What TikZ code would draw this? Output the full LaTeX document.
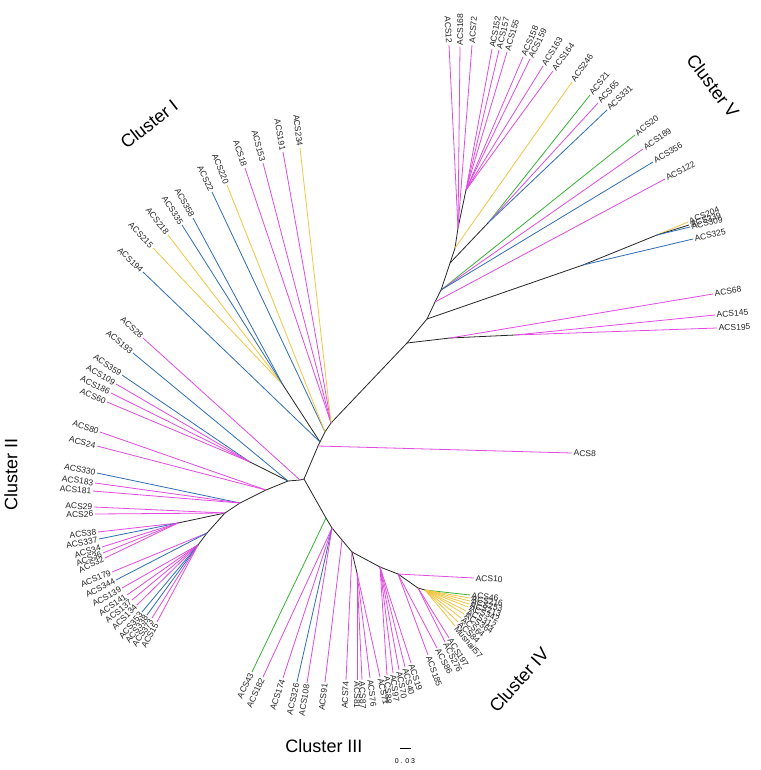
\documentclass[tikz,border=0pt]{standalone}
\usepackage{fontspec}
\setmainfont{Liberation Sans}
\usetikzlibrary{calc}
\definecolor{acsPink}  {HTML}{E04BE0}
\definecolor{acsBlue}  {HTML}{2F6DB5}
\definecolor{acsYellow}{HTML}{F2C542}
\definecolor{acsGreen} {HTML}{36B336}
\definecolor{acsBranch}{HTML}{262626}

\tikzset{
  branch/.style={draw=acsBranch, line width=0.8pt},
  leaflab/.style={font=\fontsize{8.5}{9}\selectfont, inner sep=1.5pt, text=black!85},
  clusterlab/.style={font=\fontsize{18}{20}\selectfont, inner sep=0pt},
}

% one terminal branch with its label read along the branch
\newcommand\acsleaf[4]{%
  \draw[#1, line width=0.8pt] (#2) -- (#3);
  \pgfmathanglebetweenpoints{\pgfpointanchor{#2}{center}}{\pgfpointanchor{#3}{center}}%
  \let\leafang\pgfmathresult
  \pgfmathparse{cos(\leafang)}%
  \ifdim\pgfmathresult pt<0pt
    \pgfmathsetmacro\leafrot{\leafang+180}%
    \node[leaflab, rotate=\leafrot, anchor=east] (lab-#3) at (#3) {#4};
  \else
    \node[leaflab, rotate=\leafang, anchor=west] (lab-#3) at (#3) {#4};
  \fi}

\begin{document}
\begin{tikzpicture}[x=1pt, y=-1pt]
  \fill[white] (0,0) rectangle (760,770);
  \useasboundingbox (0,0) rectangle (760,770);

  % internal nodes
  \coordinate (R0) at (304,479);
  \coordinate (n8) at (318,446);
  \coordinate (c1a) at (320,442);
  \coordinate (c1b) at (325,432);
  \coordinate (c1c) at (331,423);
  \coordinate (c1s) at (283,385);
  \coordinate (V0) at (407,343);
  \coordinate (V1) at (427,319);
  \coordinate (V2) at (435,302);
  \coordinate (V3) at (441,290);
  \coordinate (V4) at (450,263);
  \coordinate (V5) at (488,223);
  \coordinate (V6) at (455,248);
  \coordinate (V7) at (458,228);
  \coordinate (V8) at (466,190);
  \coordinate (V325) at (583,265);
  \coordinate (V204) at (657,235);
  \coordinate (V68) at (450,338);
  \coordinate (V145) at (515,335);
  \coordinate (L0) at (300,480);
  \coordinate (L1) at (288,481);
  \coordinate (L2) at (250,462);
  \coordinate (L3) at (266,490);
  \coordinate (L4) at (240,503);
  \coordinate (L5) at (225,513);
  \coordinate (L5a) at (178,523);
  \coordinate (L6) at (207,533);
  \coordinate (L7) at (198,545);
  \coordinate (D1) at (326,518);
  \coordinate (D2) at (332,528);
  \coordinate (D3) at (342,540);
  \coordinate (D4) at (352,552);
  \coordinate (D4a) at (357,573);
  \coordinate (D5) at (380,567);
  \coordinate (D6) at (398,574);
  \coordinate (F1) at (418,588);
  \coordinate (F2) at (425,590);

  \foreach \a/\b in {R0/n8, n8/c1a, c1a/c1b, c1b/c1c, c1c/V0, c1a/c1s,
      V0/V1, V1/V2, V2/V3, V3/V4, V4/V6, V6/V7, V7/V8, V4/V5,
      V1/V325, V325/V204, V0/V68, V68/V145,
      R0/L0, L0/L1, L1/L2, L1/L3, L3/L4, L4/L5, L5/L5a, L5/L6, L6/L7,
      R0/D1, D1/D2, D2/D3, D3/D4, D4/D4a, D4/D5, D5/D6, D6/F1, F1/F2}
    \draw[branch] (\a) -- (\b);

  % Cluster I and ACS8
  \foreach \b/\c/\x/\y/\t in {c1a/acsBlue/143/272/ACS194,
      c1s/acsYellow/153/248/ACS215, c1s/acsYellow/168/235/ACS218,
      c1s/acsBlue/182/225/ACS335, c1s/acsBlue/193/218/ACS358,
      c1b/acsBlue/212/192/ACS22, c1b/acsYellow/227/185/ACS220,
      c1c/acsPink/245/168/ACS18, c1c/acsPink/263/163/ACS153,
      c1c/acsPink/283/152/ACS191, c1c/acsYellow/300/148/ACS234,
      n8/acsPink/572/453/ACS8} {
    \coordinate (t-\t) at (\x,\y);
    \acsleaf{\c}{\b}{t-\t}{\t}
  }

  % Cluster V
  \foreach \b/\c/\x/\y/\t in {V7/acsPink/449/45/ACS12,
      V7/acsPink/460/47/ACS168, V7/acsPink/472/45/ACS72,
      V8/acsPink/492/49/ACS152, V8/acsPink/499/50/ACS157,
      V8/acsPink/507/52/ACS155, V8/acsPink/523/57/ACS158,
      V8/acsPink/530/59/ACS159, V8/acsPink/543/66/ACS163,
      V8/acsPink/553/71/ACS164, V6/acsYellow/572/82/ACS246,
      V5/acsGreen/590/95/ACS21, V5/acsPink/598/103/ACS65,
      V5/acsBlue/607/110/ACS331, V3/acsGreen/635/135/ACS20,
      V3/acsPink/643/149/ACS189, V3/acsBlue/653/162/ACS356,
      V2/acsPink/665/179/ACS122, V204/acsYellow/688/222/ACS204,
      V204/acsBranch/689/225/ACS339, V204/acsBlue/690/227/ACS309,
      V325/acsBlue/693/239/ACS325, V68/acsPink/713/294/ACS68,
      V145/acsPink/715/315/ACS145, V145/acsPink/717/328/ACS195} {
    \coordinate (t-\t) at (\x,\y);
    \acsleaf{\c}{\b}{t-\t}{\t}
  }

  % Cluster II
  \foreach \b/\c/\x/\y/\t in {L0/acsPink/143/338/ACS28,
      L1/acsBlue/133/353/ACS193, L2/acsBlue/122/375/ACS359,
      L2/acsPink/116/384/ACS109, L2/acsPink/111/393/ACS186,
      L2/acsPink/107/402/ACS60, L3/acsPink/100/432/ACS80,
      L3/acsPink/97/446/ACS24, L4/acsBlue/97/473/ACS330,
      L4/acsPink/95/483/ACS183, L4/acsPink/93/491/ACS181,
      L5/acsPink/94/507/ACS29, L5/acsPink/95/514/ACS26,
      L5a/acsPink/98/532/ACS38, L5a/acsBlue/99/539/ACS337,
      L5a/acsPink/102/547/ACS34, L5a/acsPink/103/553/ACS36,
      L5a/acsPink/105/558/ACS32, L6/acsPink/112/572/ACS179,
      L6/acsBlue/116/580/ACS344, L7/acsPink/122/588/ACS139,
      L7/acsPink/127/595/ACS141, L7/acsPink/132/600/ACS137,
      L7/acsPink/137/605/ACS134, L7/acsBlue/142/612/ACS353,
      L7/acsBlue/147/615/ACS338, L7/acsPink/152/618/ACS373,
      L7/acsPink/157/622/ACS15} {
    \coordinate (t-\t) at (\x,\y);
    \acsleaf{\c}{\b}{t-\t}{\t}
  }

  % Clusters III and IV
  \foreach \b/\c/\x/\y/\t in {D1/acsGreen/252/672/ACS43,
      D2/acsPink/263/677/ACS182, D2/acsPink/283/678/ACS174,
      D2/acsBlue/297/682/ACS326, D2/acsPink/307/683/ACS108,
      D3/acsPink/325/682/ACS91, D4/acsPink/346/680/ACS74,
      D4a/acsPink/357/680/ACS81, D4a/acsPink/362/680/ACS87,
      D4a/acsPink/370/678/ACS76, D4a/acsPink/380/677/ACS71,
      D5/acsPink/387/675/ACS88, D5/acsPink/393/673/ACS97,
      D5/acsPink/399/670/ACS70, D5/acsPink/405/667/ACS40,
      D5/acsPink/411/663/ACS19, D6/acsPink/474/578/ACS10,
      D6/acsPink/428/655/ACS185, D6/acsPink/437/648/ACS86,
      F1/acsPink/445/642/ACS276, F1/acsPink/449/638/ACS197,
      F2/acsGreen/470/595/ACS46, F2/acsYellow/470/598/ACS216,
      F2/acsYellow/470/601/ACS253, F2/acsYellow/469/604/ACS213,
      F2/acsYellow/468/607/ACS342, F2/acsYellow/466/611/ACS312,
      F2/acsYellow/464/614/ACS364, F2/acsYellow/461/618/ACS64,
      F2/acsYellow/458/622/ACS84, F2/acsYellow/455/626/Musnail57} {
    \coordinate (t-\t) at (\x,\y);
    \acsleaf{\c}{\b}{t-\t}{\t}
  }

  % cluster names
  \node[clusterlab, rotate=38] (clI) at (149,124) {Cluster I};
  \node[clusterlab, rotate=90] (clII) at (11,474) {Cluster II};
  \node[clusterlab] (clIII) at (324,746) {Cluster III};
  \node[clusterlab, rotate=48] (clIV) at (519,680) {Cluster IV};
  \node[clusterlab, rotate=-53] (clV) at (713,86) {Cluster V};

  % scale bar
  \coordinate (sb1) at (400,748);
  \coordinate (sb2) at (411,748);
  \draw[line width=0.7pt] (sb1) -- (sb2);
  \node[font=\fontsize{7}{8}\selectfont] (sblab) at (405,761) {0 . 0 3};
\end{tikzpicture}
\end{document}
